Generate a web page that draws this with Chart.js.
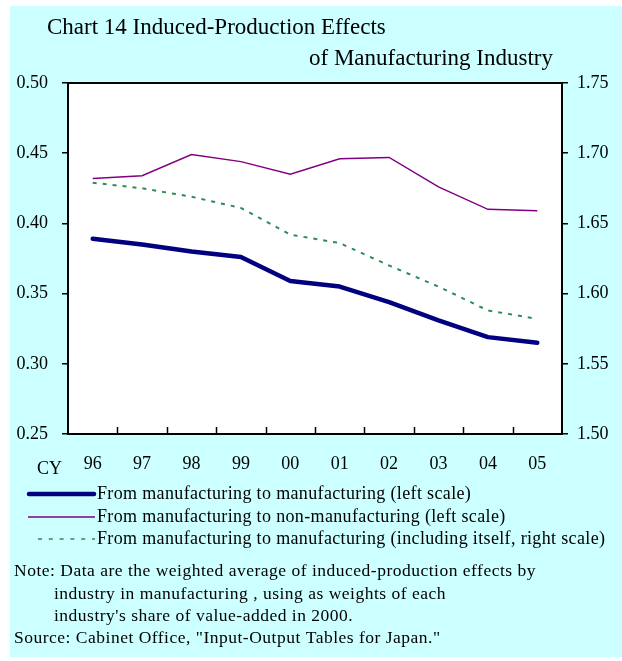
<!DOCTYPE html>
<html>
<head>
<meta charset="utf-8">
<script src="https://cdn.jsdelivr.net/npm/chart.js@4"></script>
<style>
  html, body { margin: 0; padding: 0; background: #ffffff; }
  #wrap { position: relative; width: 622px; height: 661px; }
  canvas { display: block; }
</style>
</head>
<body>
<div id="wrap"><canvas id="c" width="622" height="661"></canvas></div>
<script>
// ---- data ----
const categories = ["96", "97", "98", "99", "00", "01", "02", "03", "04", "05"];
const mfgToMfg = [0.389, 0.385, 0.380, 0.376, 0.359, 0.355, 0.344, 0.331, 0.319, 0.315];
const mfgToNonMfg = [0.432, 0.434, 0.449, 0.444, 0.435, 0.446, 0.447, 0.426, 0.410, 0.409];
const mfgToMfgInclSelf = [1.679, 1.675, 1.669, 1.661, 1.642, 1.636, 1.620, 1.605, 1.588, 1.582];
const leftTicks = [0.25, 0.30, 0.35, 0.40, 0.45, 0.50];
const rightTicks = [1.50, 1.55, 1.60, 1.65, 1.70, 1.75];
const seriesNames = [
  "From manufacturing to manufacturing (left scale)",
  "From manufacturing to non-manufacturing (left scale)",
  "From manufacturing to manufacturing (including itself, right scale)"
];
const titleLines = ["Chart 14 Induced-Production Effects", "of Manufacturing Industry"];
const noteLines = [
  "Note: Data are the weighted average of induced-production effects by",
  "industry in manufacturing , using as weights of each",
  "industry's share of value-added in 2000.",
  "Source: Cabinet Office, \"Input-Output Tables for Japan.\""
];
const axisLabelX = "CY";

const SERIF = "'Liberation Serif', 'Times New Roman', serif";
const NAVY = "#000080", PURPLE = "#800080", GREEN = "#2e8b57";

const decor = {
  id: 'decor',
  beforeDraw(chart) {
    const ctx = chart.ctx, a = chart.chartArea;
    ctx.save();
    ctx.fillStyle = '#ffffff';
    ctx.fillRect(0, 0, chart.width, chart.height);
    ctx.fillStyle = '#ccffff';
    ctx.fillRect(10, 6, chart.width - 10, 651);
    ctx.fillStyle = '#ffffff';
    ctx.fillRect(a.left, a.top, a.right - a.left, a.bottom - a.top);
    ctx.restore();
  },
  afterDraw(chart) {
    const ctx = chart.ctx, a = chart.chartArea;
    const xs = chart.scales.x;
    ctx.save();
    // plot frame
    ctx.strokeStyle = '#000';
    ctx.lineWidth = 2;
    ctx.strokeRect(a.left, a.top, a.right - a.left, a.bottom - a.top);
    // inner x ticks at category boundaries
    ctx.lineWidth = 1.5;
    const n = categories.length;
    const w = (xs.right - xs.left) / n;
    for (let i = 1; i < n; i++) {
      const x = Math.round(xs.left + i * w) + 0.5;
      ctx.beginPath();
      ctx.moveTo(x, a.bottom);
      ctx.lineTo(x, a.bottom - 7);
      ctx.stroke();
    }
    // titles
    ctx.fillStyle = '#000';
    ctx.font = "23px " + SERIF;
    ctx.letterSpacing = '0px';
    ctx.textBaseline = 'alphabetic';
    ctx.textAlign = 'left';
    ctx.fillText(titleLines[0], 47, 34);
    ctx.textAlign = 'right';
    ctx.fillText(titleLines[1], 553, 65);
    // CY
    ctx.font = "18px " + SERIF;
    ctx.textAlign = 'left';
    ctx.textBaseline = 'middle';
    ctx.fillText(axisLabelX, 37, 469);
    // legend
    const rows = [494, 517, 539];
    const styles = [
      {c: NAVY, w: 4.5, d: [], cap: 'round', x0: 29, x1: 94},
      {c: PURPLE, w: 1.5, d: [], cap: 'butt', x0: 28, x1: 95},
      {c: GREEN, w: 1.5, d: [4, 6.8], cap: 'butt', x0: 38, x1: 95}
    ];
    styles.forEach((s, i) => {
      ctx.strokeStyle = s.c;
      ctx.lineWidth = s.w;
      ctx.lineCap = s.cap;
      ctx.setLineDash(s.d);
      ctx.beginPath();
      ctx.moveTo(s.x0, rows[i]);
      ctx.lineTo(s.x1, rows[i]);
      ctx.stroke();
      ctx.setLineDash([]);
      ctx.fillStyle = '#000';
      ctx.font = "18px " + SERIF;
      ctx.letterSpacing = '0.35px';
      ctx.fillText(seriesNames[i], 97, rows[i]);
    });
    // notes
    ctx.font = "17.5px " + SERIF;
    ctx.letterSpacing = '0.5px';
    const nx = [14, 54, 54, 14];
    const ny = [571, 594, 616, 638];
    noteLines.forEach((t, i) => ctx.fillText(t, nx[i], ny[i]));
    ctx.restore();
  }
};

new Chart(document.getElementById('c'), {
  type: 'line',
  data: {
    labels: categories,
    datasets: [
      { label: seriesNames[2], data: mfgToMfgInclSelf, yAxisID: 'y1', borderColor: GREEN,
        borderWidth: 2, borderDash: [4, 6], pointRadius: 0, tension: 0, fill: false },
      { label: seriesNames[1], data: mfgToNonMfg, yAxisID: 'y', borderColor: PURPLE,
        borderWidth: 1.5, pointRadius: 0, tension: 0, fill: false },
      { label: seriesNames[0], data: mfgToMfg, yAxisID: 'y', borderColor: NAVY,
        borderWidth: 4.5, borderCapStyle: 'round', borderJoinStyle: 'round', pointRadius: 0, tension: 0, fill: false }
    ]
  },
  options: {
    responsive: false,
    animation: false,
    devicePixelRatio: 1,
    layout: { padding: { top: 83, left: 0, right: 0, bottom: 0 } },
    plugins: { legend: { display: false }, title: { display: false }, tooltip: { enabled: false } },
    scales: {
      x: {
        type: 'category',
        offset: true,
        grid: { display: false, drawTicks: false },
        border: { display: false },
        ticks: { color: '#000', font: { family: SERIF, size: 18 }, padding: 19, maxRotation: 0, autoSkip: false },
        afterFit(s) { s.height = 227; }
      },
      y: {
        position: 'left',
        min: leftTicks[0], max: leftTicks[leftTicks.length - 1],
        afterBuildTicks(s) { s.ticks = leftTicks.map(v => ({ value: v })); },
        grid: { drawOnChartArea: false, drawTicks: true, tickLength: 6, color: '#000', lineWidth: 1.5 },
        border: { display: false },
        ticks: { color: '#000', font: { family: SERIF, size: 18 }, padding: 14, callback: v => Number(v).toFixed(2) },
        afterFit(s) { s.width = 68; }
      },
      y1: {
        position: 'right',
        min: rightTicks[0], max: rightTicks[rightTicks.length - 1],
        afterBuildTicks(s) { s.ticks = rightTicks.map(v => ({ value: v })); },
        grid: { drawOnChartArea: false, drawTicks: true, tickLength: 6, color: '#000', lineWidth: 1.5 },
        border: { display: false },
        ticks: { color: '#000', font: { family: SERIF, size: 18 }, padding: 9, callback: v => Number(v).toFixed(2) },
        afterFit(s) { s.width = 60; }
      }
    }
  },
  plugins: [decor]
});
</script>
</body>
</html>
